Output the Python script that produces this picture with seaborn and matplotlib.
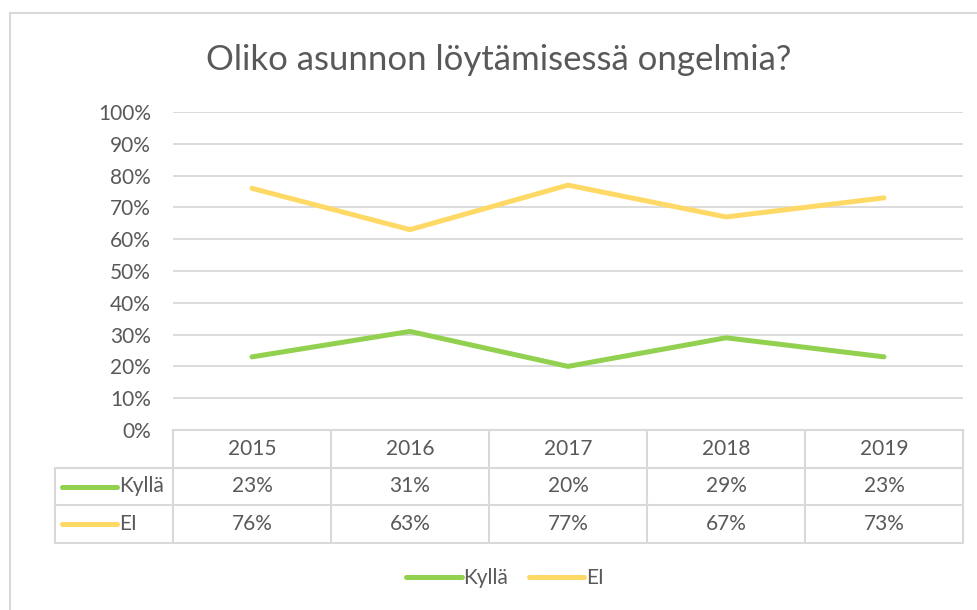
import pandas as pd
import numpy as np
import matplotlib.pyplot as plt
import seaborn as sns
from matplotlib.lines import Line2D

# data
years = ["2015", "2016", "2017", "2018", "2019"]
kylla = [23, 31, 20, 29, 23]
ei = [76, 63, 77, 67, 73]
series_names = ["Kyllä", "EI"]
colors = {"Kyllä": "#92D050", "EI": "#FFD966"}
title = "Oliko asunnon löytämisessä ongelmia?"

text_col = "#595959"
grid_col = "#D9D9D9"
fs = 15

df = pd.DataFrame({
    "pos": list(range(len(years))) * 2,
    "value": kylla + ei,
    "series": ["Kyllä"] * len(years) + ["EI"] * len(years),
})

sns.set_theme(style="white")
plt.rcParams["font.family"] = ["Lato", "DejaVu Sans"]

W, H = 977, 610
fig = plt.figure(figsize=(W / 100, H / 100), dpi=100)

def box(x0, y0, x1, y1):
    # pixel box (top-left origin) -> figure fraction rect
    return [x0 / W, 1 - y1 / H, (x1 - x0) / W, (y1 - y0) / H]

# main line chart
ax = fig.add_axes(box(173, 112, 963, 430))
sns.lineplot(data=df, x="pos", y="value", hue="series", palette=colors,
             linewidth=3.6, legend=False, ax=ax, solid_capstyle="round")
ax.set_xlim(-0.5, len(years) - 0.5)
ax.set_ylim(0, 100)
ax.set_yticks(range(0, 101, 10))
ax.set_yticklabels([f"{t}%" for t in range(0, 101, 10)])
ax.set_xticks([])
ax.set_xlabel("")
ax.set_ylabel("")
ax.tick_params(axis="y", length=0, pad=16, labelsize=fs, labelcolor=text_col)
for t in range(10, 101, 10):
    ax.axhline(t, color=grid_col, lw=1.3, zorder=0)
for s in ax.spines.values():
    s.set_visible(False)

# data table under the chart
left = -0.5 - (173 - 55) / 158
tax = fig.add_axes(box(55, 430, 963, 543))
tax.set_xlim(left, len(years) - 0.5)
tax.set_ylim(0, 3)
tax.axis("off")
n = len(years)
lkw = dict(color=grid_col, lw=1.5, clip_on=False)
tax.plot([-0.5, n - 0.5], [3, 3], **lkw)
for yy in [0, 1, 2]:
    tax.plot([left, n - 0.5], [yy, yy], **lkw)
tax.plot([left, left], [0, 2], **lkw)
for i in range(n + 1):
    tax.plot([i - 0.5, i - 0.5], [0, 3], **lkw)
for i, yr in enumerate(years):
    tax.text(i, 2.5, yr, ha="center", va="center", fontsize=fs, color=text_col)
for row, (name, vals) in enumerate(zip(series_names, [kylla, ei])):
    yc = 1.5 - row
    hx0 = (62 - 55) / 158 + left
    hx1 = (117 - 55) / 158 + left
    tax.plot([hx0, hx1], [yc, yc], color=colors[name], lw=3.6,
             solid_capstyle="round", clip_on=False)
    tax.text((119 - 55) / 158 + left, yc, name, ha="left", va="center",
             fontsize=fs, color=text_col)
    for i, v in enumerate(vals):
        tax.text(i, yc, f"{v}%", ha="center", va="center", fontsize=fs,
                 color=text_col)

# title
fig.text(499 / W, 1 - 60 / H, title, ha="center", va="center",
         fontsize=25, color=text_col)

# legend
handles = [Line2D([], [], color=colors[nm], lw=3.6, solid_capstyle="round")
           for nm in series_names]
fig.legend(handles, series_names, loc="center", bbox_to_anchor=(505 / W, 1 - 578 / H),
           ncol=2, frameon=False, fontsize=fs, handlelength=2.65,
           handletextpad=0.08, columnspacing=1.0, labelcolor=text_col)

# chart frame (partly cropped)
fig.add_artist(Line2D([9.5 / W, 9.5 / W], [0, 1 - 13 / H], color=grid_col,
                      lw=1.5, transform=fig.transFigure))
fig.add_artist(Line2D([9.5 / W, 1], [1 - 13 / H, 1 - 13 / H], color=grid_col,
                      lw=1.5, transform=fig.transFigure))

fig.savefig("out.png", dpi=100)
